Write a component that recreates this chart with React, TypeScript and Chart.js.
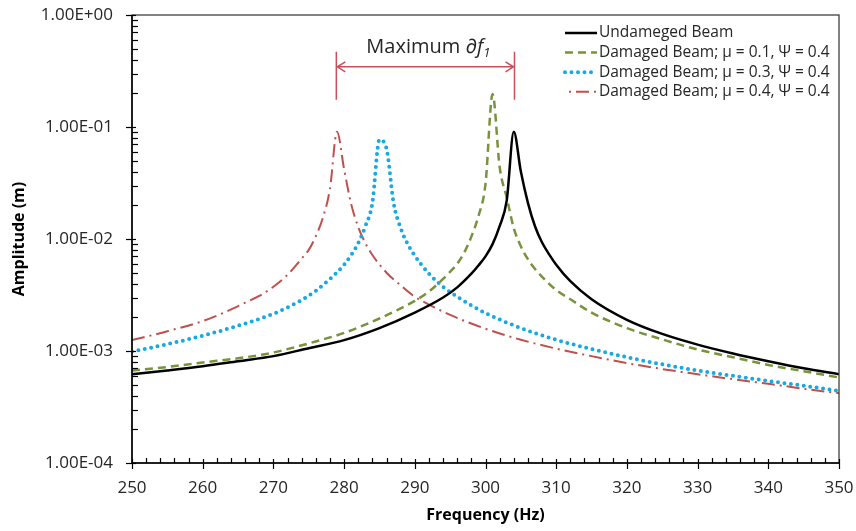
import React, { useEffect, useRef } from 'react';
import { Chart, registerables } from 'chart.js';

Chart.register(...registerables);

// ---------- data ----------
const seriesNames = [
  'Undameged Beam',
  'Damaged Beam; μ = 0.1, Ψ = 0.4',
  'Damaged Beam; μ = 0.3, Ψ = 0.4',
  'Damaged Beam; μ = 0.4, Ψ = 0.4',
];

const freqUndamaged = [250, 255, 260, 265, 270, 275, 280, 285, 290, 294, 296, 298, 299, 300, 301, 302, 303, 304, 305, 306, 307, 308, 309, 310, 312, 315, 320, 325, 330, 335, 340, 345, 350];
const ampUndamaged = [6.2e-4, 6.7e-4, 7.3e-4, 8.1e-4, 9.0e-4, 1.06e-3, 1.25e-3, 1.6e-3, 2.2e-3, 3.0e-3, 3.7e-3, 4.9e-3, 5.8e-3, 7.0e-3, 9.0e-3, 0.013, 0.022, 0.0908, 0.04, 0.021, 0.013, 9.3e-3, 7.3e-3, 5.9e-3, 4.2e-3, 2.9e-3, 1.9e-3, 1.42e-3, 1.14e-3, 9.5e-4, 8.1e-4, 7.0e-4, 6.2e-4];

const freqMu01 = [250, 255, 260, 265, 270, 275, 280, 285, 288, 290, 292, 294, 295, 296, 297, 298, 299, 300, 301, 302, 303, 304, 305, 306, 307, 308, 310, 312, 315, 320, 325, 330, 335, 340, 345, 350];
const ampMu01 = [6.7e-4, 7.2e-4, 7.9e-4, 8.6e-4, 9.7e-4, 1.17e-3, 1.45e-3, 1.95e-3, 2.4e-3, 2.8e-3, 3.4e-3, 4.4e-3, 5.1e-3, 6.0e-3, 7.6e-3, 0.0105, 0.016, 0.031, 0.197, 0.044, 0.0235, 0.0125, 8.6e-3, 6.6e-3, 5.4e-3, 4.6e-3, 3.5e-3, 2.9e-3, 2.2e-3, 1.6e-3, 1.27e-3, 1.03e-3, 8.8e-4, 7.5e-4, 6.6e-4, 5.8e-4];

const freqMu03 = [250, 255, 260, 265, 270, 272, 274, 276, 278, 280, 281, 282, 283, 284, 285, 286, 287, 288, 289, 290, 292, 294, 296, 298, 300, 305, 310, 315, 320, 325, 330, 335, 340, 345, 350];
const ampMu03 = [9.9e-4, 1.15e-3, 1.37e-3, 1.68e-3, 2.15e-3, 2.45e-3, 2.85e-3, 3.45e-3, 4.4e-3, 5.9e-3, 7.2e-3, 9.2e-3, 0.013, 0.021, 0.077, 0.064, 0.021, 0.0125, 9.0e-3, 7.1e-3, 4.9e-3, 3.75e-3, 3.05e-3, 2.55e-3, 2.18e-3, 1.6e-3, 1.26e-3, 1.04e-3, 8.8e-4, 7.6e-4, 6.7e-4, 6.0e-4, 5.4e-4, 4.9e-4, 4.4e-4];

const freqMu04 = [250, 255, 260, 263, 266, 268, 270, 272, 274, 275, 276, 277, 278, 279, 280, 281, 282, 283, 284, 286, 288, 290, 292, 295, 300, 305, 310, 315, 320, 325, 330, 335, 340, 345, 350];
const ampMu04 = [1.25e-3, 1.5e-3, 1.85e-3, 2.2e-3, 2.7e-3, 3.1e-3, 3.75e-3, 4.8e-3, 6.7e-3, 8.0e-3, 0.0106, 0.0155, 0.028, 0.0908, 0.042, 0.0205, 0.0128, 9.2e-3, 7.2e-3, 5.0e-3, 3.85e-3, 3.05e-3, 2.6e-3, 2.1e-3, 1.58e-3, 1.26e-3, 1.05e-3, 9.0e-4, 7.8e-4, 6.9e-4, 6.2e-4, 5.6e-4, 5.1e-4, 4.6e-4, 4.2e-4];

const xMin = 250;
const xMax = 350;
const xMajorStep = 10;
const xMinorStep = 2;
const yDecades = [1e-4, 1e-3, 1e-2, 1e-1, 1];

// annotation: "Maximum ∂f1" between the two peak frequencies
const annotFreqs = [278.9, 304.1];
const annotLineTop = 0.47;
const annotLineBottom = 0.175;
const annotArrowY = 0.345;
const annotTextY = 0.455;
const annotLabel = 'Maximum ';

const FONT = '"Open Sans", "Noto Sans", Arial, sans-serif';
const TEXT = '#262626';

const toPoints = (fs: number[], as: number[]) => fs.map((f, i) => ({ x: f, y: as[i] }));

const fmtExp = (v: number) => {
  const e = Math.round(Math.log10(v));
  const m = v / Math.pow(10, e);
  const sign = e < 0 ? '-' : '+';
  const a = Math.abs(e);
  return m.toFixed(2) + 'E' + sign + (a < 10 ? '0' + a : String(a));
};

const decorPlugin = {
  id: 'decor',
  afterDatasetsDraw(chart: any) {
    const { ctx, chartArea: a, scales } = chart;
    const xs = scales.x;
    const ys = scales.y;
    ctx.save();

    // plot frame
    ctx.strokeStyle = '#404040';
    ctx.lineWidth = 1.3;
    ctx.setLineDash([]);
    ctx.strokeRect(a.left, a.top, a.right - a.left, a.bottom - a.top);
    // axes
    ctx.strokeStyle = '#000';
    ctx.lineWidth = 1.5;
    ctx.beginPath();
    ctx.moveTo(a.left, a.top);
    ctx.lineTo(a.left, a.bottom);
    ctx.lineTo(a.right, a.bottom);
    ctx.stroke();

    // x ticks
    ctx.lineWidth = 1.2;
    for (let v = xMin; v <= xMax + 1e-9; v += xMinorStep) {
      const px = Math.round(xs.getPixelForValue(v)) + 0.5;
      const major = Math.abs((v - xMin) % xMajorStep) < 1e-6;
      ctx.beginPath();
      if (major) {
        ctx.moveTo(px, a.bottom - 4);
        ctx.lineTo(px, a.bottom + 6);
      } else {
        ctx.moveTo(px, a.bottom);
        ctx.lineTo(px, a.bottom - 5);
      }
      ctx.stroke();
    }
    // y ticks (log)
    yDecades.forEach((d, i) => {
      const py = Math.round(ys.getPixelForValue(d)) + 0.5;
      ctx.beginPath();
      ctx.moveTo(a.left - 6, py);
      ctx.lineTo(a.left + 4, py);
      ctx.stroke();
      if (i < yDecades.length - 1) {
        for (let k = 2; k <= 9; k++) {
          const pm = Math.round(ys.getPixelForValue(d * k)) + 0.5;
          ctx.beginPath();
          ctx.moveTo(a.left, pm);
          ctx.lineTo(a.left + 6, pm);
          ctx.stroke();
        }
      }
    });

    // annotation
    const annColor = '#C9505A';
    ctx.strokeStyle = annColor;
    ctx.lineWidth = 1.5;
    const xl = xs.getPixelForValue(annotFreqs[0]);
    const xr = xs.getPixelForValue(annotFreqs[1]);
    const yt = ys.getPixelForValue(annotLineTop);
    const yb = ys.getPixelForValue(annotLineBottom);
    const ya = ys.getPixelForValue(annotArrowY);
    ctx.beginPath();
    ctx.moveTo(xl, yt); ctx.lineTo(xl, yb);
    ctx.moveTo(xr, yt); ctx.lineTo(xr, yb);
    ctx.moveTo(xl, ya); ctx.lineTo(xr, ya);
    ctx.moveTo(xl + 9, ya - 5); ctx.lineTo(xl + 1, ya); ctx.lineTo(xl + 9, ya + 5);
    ctx.moveTo(xr - 9, ya - 5); ctx.lineTo(xr - 1, ya); ctx.lineTo(xr - 9, ya + 5);
    ctx.stroke();

    const ty = ys.getPixelForValue(annotTextY);
    ctx.fillStyle = TEXT;
    ctx.textBaseline = 'alphabetic';
    ctx.textAlign = 'left';
    ctx.font = `20px ${FONT}`;
    const w1 = ctx.measureText(annotLabel).width;
    ctx.font = `italic 20px ${FONT}`;
    const w2 = ctx.measureText('∂f').width;
    ctx.font = `italic 13px ${FONT}`;
    const w3 = ctx.measureText('1').width;
    const total = w1 + w2 + w3;
    let tx = (xl + xr) / 2 - total / 2 + 3;
    ctx.font = `20px ${FONT}`;
    ctx.fillText(annotLabel, tx, ty);
    tx += w1;
    ctx.font = `italic 20px ${FONT}`;
    ctx.fillText('∂f', tx, ty);
    tx += w2;
    ctx.font = `italic 13px ${FONT}`;
    ctx.fillText('1', tx, ty + 4);

    // legend
    const lx = a.right - 274;
    const ly = a.top + 18;
    const rowH = 19.6;
    chart.data.datasets.forEach((ds: any, i: number) => {
      const y = ly + i * rowH;
      ctx.strokeStyle = ds.borderColor;
      ctx.lineWidth = ds.borderWidth;
      ctx.lineCap = ds.borderCapStyle || 'butt';
      ctx.setLineDash(ds.borderDash || []);
      ctx.lineDashOffset = ds.legendDashOffset || 0;
      ctx.beginPath();
      ctx.moveTo(lx, y);
      ctx.lineTo(lx + 32, y);
      ctx.stroke();
      ctx.setLineDash([]);
      ctx.lineCap = 'butt';
      ctx.fillStyle = TEXT;
      ctx.font = `15.5px ${FONT}`;
      ctx.textBaseline = 'middle';
      ctx.fillText(ds.label, lx + 34, y);
    });

    ctx.restore();
  },
};

export default function App() {
  const ref = useRef<HTMLCanvasElement | null>(null);

  useEffect(() => {
    if (!ref.current) return;
    const common = { pointRadius: 0, cubicInterpolationMode: 'monotone' };
    const chart = new Chart(ref.current, {
      type: 'line',
      data: {
        datasets: [
          {
            ...common,
            label: seriesNames[0],
            data: toPoints(freqUndamaged, ampUndamaged),
            borderColor: '#000000',
            borderWidth: 2.5,
          },
          {
            ...common,
            label: seriesNames[1],
            data: toPoints(freqMu01, ampMu01),
            borderColor: '#77933C',
            borderWidth: 2.5,
            borderDash: [8, 5],
          },
          {
            ...common,
            label: seriesNames[2],
            data: toPoints(freqMu03, ampMu03),
            borderColor: '#17A9E1',
            borderWidth: 4,
            borderDash: [0, 6.5],
            borderCapStyle: 'round',
          },
          {
            ...common,
            label: seriesNames[3],
            data: toPoints(freqMu04, ampMu04),
            borderColor: '#C0504D',
            borderWidth: 2,
            borderDash: [13, 5, 2, 5],
            legendDashOffset: 14,
          },
        ] as any,
      },
      options: {
        animation: false,
        responsive: false,
        maintainAspectRatio: false,
        layout: { padding: { left: 0, top: 15, right: 17, bottom: 0 } },
        plugins: {
          legend: { display: false },
          tooltip: { enabled: false },
        },
        scales: {
          x: {
            type: 'linear',
            min: xMin,
            max: xMax,
            grid: { display: false, drawTicks: false },
            border: { display: false },
            ticks: {
              stepSize: xMajorStep,
              padding: 15,
              color: TEXT,
              font: { family: FONT, size: 17 },
              maxRotation: 0,
              callback: (v: any) => String(v),
            },
            title: {
              display: true,
              text: 'Frequency (Hz)',
              color: '#000',
              font: { family: FONT, size: 16, weight: 'bold' },
              padding: { top: 0, bottom: 6 },
            },
            afterFit: (s: any) => {
              s.height = 68;
              s.paddingLeft = 0;
              s.paddingRight = 0;
            },
          },
          y: {
            type: 'logarithmic',
            min: 1e-4,
            max: 1,
            grid: { display: false, drawTicks: false },
            border: { display: false },
            afterBuildTicks: (s: any) => { s.ticks = yDecades.map((v) => ({ value: v })); },
            ticks: {
              padding: 19,
              color: TEXT,
              font: { family: FONT, size: 17 },
              callback: (v: any) => fmtExp(Number(v)),
            },
            title: {
              display: true,
              text: 'Amplitude (m)',
              color: '#000',
              font: { family: FONT, size: 16, weight: 'bold' },
              padding: { top: 10, bottom: 0 },
            },
            afterFit: (s: any) => {
              s.width = 132;
              s.paddingTop = 0;
              s.paddingBottom = 0;
            },
          },
        },
      } as any,
      plugins: [decorPlugin],
    });
    return () => chart.destroy();
  }, []);

  return (
    <div style={{ position: 'fixed', left: 0, top: 0, width: 856, height: 531, background: '#fff' }}>
      <canvas ref={ref} width={856} height={531} style={{ width: 856, height: 531 }} />
    </div>
  );
}
